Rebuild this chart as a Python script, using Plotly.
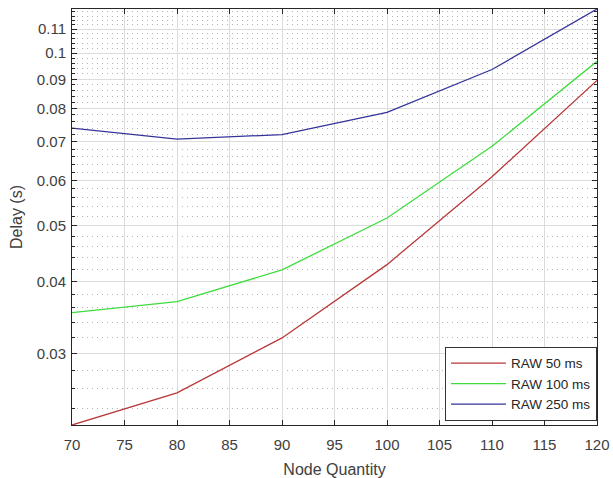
import numpy as np
import plotly.graph_objects as go

node_quantity = [70, 80, 90, 100, 110, 120]
raw_50 = [0.0225, 0.0256, 0.0319, 0.0428, 0.0609, 0.0896]
raw_100 = [0.0353, 0.0369, 0.0419, 0.0516, 0.0688, 0.0967]
raw_250 = [0.0740, 0.0708, 0.0721, 0.0788, 0.0936, 0.1193]

series_names = ["RAW 50 ms", "RAW 100 ms", "RAW 250 ms"]
series_colors = ["#b83838", "#3fdc3f", "#34349a"]

y_tick_vals = [0.03, 0.04, 0.05, 0.06, 0.07, 0.08, 0.09, 0.1, 0.11]
y_tick_text = ["0.03", "0.04", "0.05", "0.06", "0.07", "0.08", "0.09", "0.1", "0.11"]
x_tick_vals = [70, 75, 80, 85, 90, 95, 100, 105, 110, 115, 120]

fig = go.Figure()
for name, vals, col in zip(series_names, [raw_50, raw_100, raw_250], series_colors):
    fig.add_trace(go.Scatter(x=node_quantity, y=vals, mode="lines", name=name,
                             line=dict(color=col, width=1.3)))

ymin = min(raw_50)
ymax = max(raw_250)
minor_vals = [round(v, 3) for v in np.arange(0.022, 0.1195, 0.002)
              if all(abs(v - t) > 1e-6 for t in y_tick_vals)]

font_family = "Liberation Sans, Arial, sans-serif"
axis_col = "#262626"
text_col = "#404040"

fig.update_layout(
    width=613, height=478,
    margin=dict(l=72, r=16, t=9, b=53),
    paper_bgcolor="white", plot_bgcolor="white",
    font=dict(family=font_family, size=15, color=text_col),
    showlegend=True,
    legend=dict(x=1.0, y=0.01, xanchor="right", yanchor="bottom",
                bgcolor="white", bordercolor="#333333", borderwidth=1,
                itemwidth=55, tracegroupgap=0,
                font=dict(size=13.5, color="#262626")),
    xaxis=dict(
        range=[70, 120], tickvals=x_tick_vals, automargin=False,
        showgrid=True, gridcolor="#dcdcdc", gridwidth=1,
        zeroline=False, showline=True, linecolor=axis_col, linewidth=1,
        mirror="allticks", ticks="inside", ticklen=5, tickcolor=axis_col,
        ticklabelstandoff=6,
        title=dict(text="Node Quantity", font=dict(size=16, color=text_col), standoff=12),
        tickfont=dict(size=15, color=text_col),
    ),
    yaxis=dict(
        type="log", range=[np.log10(ymin), np.log10(ymax)], automargin=False,
        tickvals=y_tick_vals, ticktext=y_tick_text,
        showgrid=True, gridcolor="#dcdcdc", gridwidth=1,
        zeroline=False, showline=True, linecolor=axis_col, linewidth=1,
        mirror="allticks", ticks="inside", ticklen=5, tickcolor=axis_col,
        ticklabelstandoff=2,
        title=dict(text="Delay (s)", font=dict(size=16, color=text_col), standoff=10),
        tickfont=dict(size=15, color=text_col),
        minor=dict(tickvals=minor_vals, showgrid=True, gridcolor="#b4b4b4",
                   griddash="1px,4px", gridwidth=1, ticks="inside", ticklen=3,
                   tickcolor=axis_col),
    ),
)

fig.write_html("out.html", config={"displayModeBar": False},
               post_script="document.body.style.margin='0';document.body.style.overflow='hidden';")
